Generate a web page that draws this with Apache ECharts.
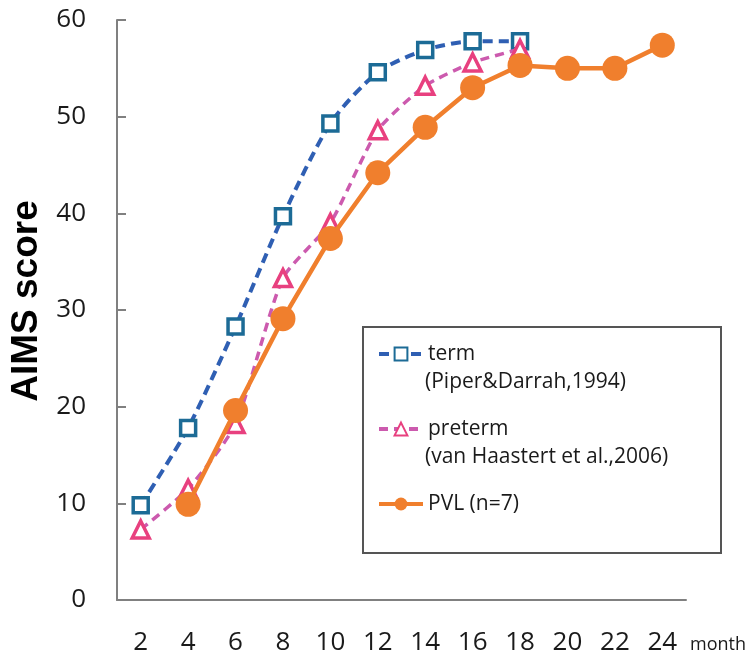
<!DOCTYPE html>
<html>
<head>
<meta charset="utf-8">
<script src="https://cdn.jsdelivr.net/npm/echarts@6/dist/echarts.min.js"></script>
<style>html,body{margin:0;padding:0;background:#fff}#c{width:755px;height:657px}</style>
</head>
<body>
<div id="c"></div>
<script>
const months = ['2','4','6','8','10','12','14','16','18','20','22','24'];
const termValues = [9.8, 17.8, 28.3, 39.7, 49.3, 54.6, 56.9, 57.8, 57.8, null, null, null];
const pretermValues = [7.3, 11.5, 18.2, 33.3, 39.0, 48.6, 53.2, 55.6, 57.0, null, null, null];
const pvlValues = [null, 9.9, 19.6, 29.1, 37.4, 44.2, 48.9, 53.0, 55.3, 55.0, 55.0, 57.4];
const seriesNames = ['term', 'preterm', 'PVL (n=7)'];
const citations = ['(Piper&Darrah,1994)', '(van Haastert et al.,2006)'];
const yTicks = [0, 10, 20, 30, 40, 50, 60];

const FONT = '"Open Sans", "Noto Sans", sans-serif';
const chart = echarts.init(document.getElementById('c'), null, {renderer: 'canvas'});
chart.setOption({
  backgroundColor: '#ffffff',
  animation: false,
  grid: {left: 117, right: 69, top: 20, bottom: 57},
  xAxis: {
    type: 'category',
    data: months,
    boundaryGap: true,
    axisLine: {lineStyle: {color: '#808080', width: 2}},
    axisTick: {inside: true, length: 8, lineStyle: {color: '#808080', width: 2}},
    axisLabel: {color: '#1a1a1a', fontSize: 26, fontFamily: FONT, margin: 30}
  },
  yAxis: {
    type: 'value',
    min: yTicks[0], max: yTicks[yTicks.length - 1], interval: 10,
    name: 'AIMS score',
    nameLocation: 'middle',
    nameGap: 60,
    nameTextStyle: {fontSize: 37, fontWeight: 'bold', color: '#000', fontFamily: '"Liberation Sans", Arial, sans-serif', padding: [0, 0, 0, 18]},
    splitLine: {show: false},
    axisLine: {show: true, lineStyle: {color: '#808080', width: 2}},
    axisTick: {show: true, inside: true, length: 9, lineStyle: {color: '#808080', width: 2}},
    axisLabel: {color: '#1a1a1a', fontSize: 26, fontFamily: FONT, margin: 31}
  },
  legend: {
    orient: 'vertical',
    left: 372, top: 338,
    itemWidth: 44, itemHeight: 16,
    itemGap: 53,
    data: [
      {name: seriesNames[0], lineStyle: {width: 4}},
      {name: seriesNames[1], lineStyle: {width: 4}},
      {name: seriesNames[2], lineStyle: {width: 4}}
    ],
    selectedMode: false,
    textStyle: {fontSize: 21, color: '#1a1a1a', fontFamily: FONT, lineHeight: 22}
  },
  graphic: [
    {type: 'rect', shape: {x: 363, y: 327, width: 358, height: 226}, style: {fill: 'none', stroke: '#555', lineWidth: 2}, z: 1},
    {type: 'text', x: 425, y: 382, style: {text: citations[0], fontSize: 21, fontFamily: FONT, fill: '#1a1a1a', verticalAlign: 'middle'}},
    {type: 'text', x: 425, y: 457, style: {text: citations[1], fontSize: 21, fontFamily: FONT, fill: '#1a1a1a', verticalAlign: 'middle'}},
    {type: 'text', x: 690, y: 645, style: {text: 'month', fontSize: 18, fontFamily: FONT, fill: '#1a1a1a', verticalAlign: 'middle'}}
  ],
  series: [
    {
      name: seriesNames[0], type: 'line', data: termValues, smooth: 0.25,
      symbol: 'rect', symbolSize: 15,
      lineStyle: {color: '#2f5fb3', width: 4, type: [10, 6]},
      itemStyle: {color: '#ffffff', borderColor: '#1c6b96', borderWidth: 3.5},
      z: 3
    },
    {
      name: seriesNames[1], type: 'line', data: pretermValues, smooth: 0.2,
      symbol: 'triangle', symbolSize: 17,
      lineStyle: {color: '#cc5aae', width: 3.5, type: [9, 6]},
      itemStyle: {color: '#ffffff', borderColor: '#e8407f', borderWidth: 3.5},
      z: 4
    },
    {
      name: seriesNames[2], type: 'line', data: pvlValues,
      symbol: 'circle', symbolSize: 25,
      lineStyle: {color: '#f07f2d', width: 4.5},
      itemStyle: {color: '#f07f2d'},
      z: 5
    }
  ]
});
</script>
</body>
</html>
